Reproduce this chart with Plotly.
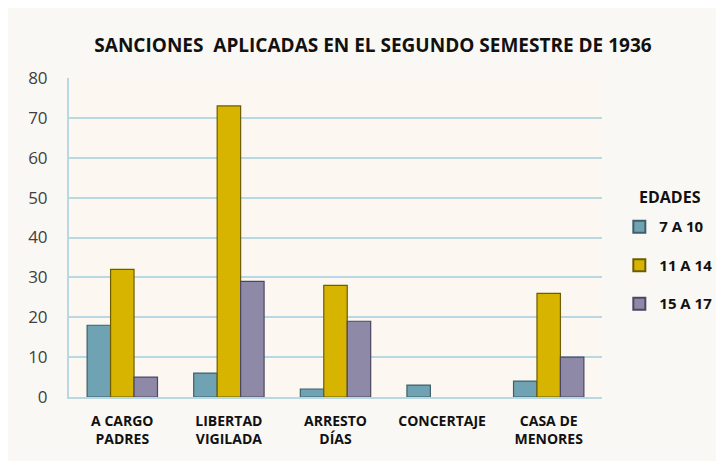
import plotly.graph_objects as go

categories = ["A CARGO<br>PADRES", "LIBERTAD<br>VIGILADA", "ARRESTO<br>DÍAS", "CONCERTAJE<br> ", "CASA DE<br>MENORES"]
series_names = ["7 A 10", "11 A 14", "15 A 17"]
legend_title = "EDADES"
v_7_10 = [18, 6, 2, 3, 4]
v_11_14 = [32, 73, 28, 0, 26]
v_15_17 = [5, 29, 19, 0, 10]
colors = ["#6FA3B3", "#D6B400", "#8F89A8"]
edges = ["#3E5F6A", "#6E5C00", "#4C4760"]

fig = go.Figure()
for name, vals, c, e in zip(series_names, [v_7_10, v_11_14, v_15_17], colors, edges):
    fig.add_trace(go.Bar(
        name=name, x=categories, y=vals, legendgroup=name,
        marker=dict(color=c, line=dict(color=e, width=[1.2 if v > 0 else 0 for v in vals])),
    ))

fig.add_annotation(
    text="<b>%s</b>" % legend_title, xref="paper", yref="paper",
    x=(629 - 61) / 533, y=1 - (189 - 70) / 319, xanchor="left", yanchor="middle",
    showarrow=False, font=dict(size=16, color="#111111"),
)

fig.update_layout(
    width=724, height=461,
    margin=dict(l=61, r=130, t=70, b=72),
    paper_bgcolor="#FAF8F4",
    plot_bgcolor="#FCF8F1",
    barmode="group", bargap=0.34, bargroupgap=0,
    font=dict(family="Open Sans, Liberation Sans, sans-serif", color="#000000"),
    title=dict(text="<b>SANCIONES  APLICADAS EN EL SEGUNDO SEMESTRE DE 1936</b>",
               x=(373 - 8) / 724, xanchor="center", xref="container",
               y=1 - 37 / 461, yanchor="middle",
               font=dict(size=19, color="#111111")),
    legend=dict(
        x=1.0325, xanchor="left", y=0.585, yanchor="top",
        font=dict(size=15, weight="bold", color="#111111"), bgcolor="rgba(0,0,0,0)",
        itemsizing="constant", tracegroupgap=16,
    ),
    showlegend=True,
)
fig.update_xaxes(
    showgrid=False, showline=True, linecolor="#B8D8E4", linewidth=2,
    tickfont=dict(size=14, color="#111111", weight="bold"), ticks="",
    ticklabelstandoff=10,
)
fig.update_yaxes(
    range=[0, 80], dtick=10, showgrid=True, gridcolor="#B8D8E4", gridwidth=2,
    showline=True, linecolor="#B8D8E4", linewidth=2, zeroline=False,
    tickfont=dict(size=17, color="#404040"), ticks="", ticklabelstandoff=16,
)
fig.write_html("out.html")
